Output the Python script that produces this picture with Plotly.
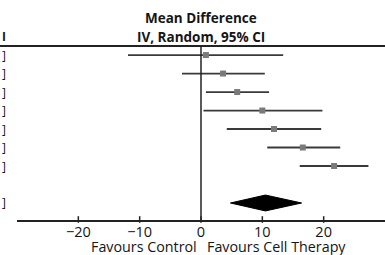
import plotly.graph_objects as go

# Study rows (mean difference, 95% CI)
means = [0.8, 3.6, 5.9, 10.0, 11.9, 16.6, 21.7]
lows = [-11.9, -3.1, 0.8, 0.4, 4.2, 10.8, 16.1]
highs = [13.4, 10.4, 11.1, 19.8, 19.6, 22.7, 27.3]

# Pooled estimate
pooled_mean = 10.5
pooled_low = 4.8
pooled_high = 16.4

tick_vals = [-20, -10, 0, 10, 20]
title_lines = ["Mean Difference", "IV, Random, 95% CI"]
label_left = "Favours Control"
label_right = "Favours Cell Therapy"

FONT = "Open Sans"
TXT = "#151515"
n = len(means)
rows = list(range(n))
pooled_row = n + 1
half_h = 0.43

fig = go.Figure()

# CI lines + squares
fig.add_trace(go.Scatter(
    x=means, y=rows, mode="markers",
    marker=dict(symbol="square", size=6, color="#7a7a7a", line=dict(width=0)),
    error_x=dict(type="data", symmetric=False,
                 array=[h - m for h, m in zip(highs, means)],
                 arrayminus=[m - l for m, l in zip(means, lows)],
                 thickness=1.8, width=0, color="#3a3a3a"),
    showlegend=False, hoverinfo="skip", cliponaxis=False,
))

# Pooled diamond
fig.add_trace(go.Scatter(
    x=[pooled_low, pooled_mean, pooled_high, pooled_mean, pooled_low],
    y=[pooled_row, pooled_row - half_h, pooled_row, pooled_row + half_h, pooled_row],
    mode="lines", fill="toself", fillcolor="black",
    line=dict(color="black", width=1),
    showlegend=False, hoverinfo="skip",
))

shapes = []
# top header line
shapes.append(dict(type="line", xref="paper", yref="paper", x0=-0.05, x1=1.0,
                   y0=1, y1=1, line=dict(color="#222", width=1.8)))
# vertical null line
shapes.append(dict(type="line", xref="x", yref="paper", x0=0, x1=0, y0=0, y1=1,
                   line=dict(color="#222", width=1.5)))
# tick marks crossing the axis
for t in tick_vals:
    shapes.append(dict(type="line", xref="x", yref="paper", x0=t, x1=t,
                       y0=-0.016, y1=0.022, line=dict(color="#222", width=1.5)))

annotations = []
annotations.append(dict(text="<b>%s</b>" % title_lines[0], x=0, xref="x", y=1.161, yref="paper",
                        xanchor="center", yanchor="middle", showarrow=False,
                        font=dict(family=FONT, size=13.5, color=TXT)))
annotations.append(dict(text="<b>%s</b>" % title_lines[1], x=0, xref="x", y=1.052, yref="paper",
                        xanchor="center", yanchor="middle", showarrow=False,
                        font=dict(family=FONT, size=13.5, color=TXT)))
annotations.append(dict(text=label_left, x=-0.4, xref="x", y=-0.155, yref="paper",
                        xanchor="right", yanchor="middle", showarrow=False,
                        font=dict(family=FONT, size=14.3, color=TXT)))
annotations.append(dict(text=label_right, x=0.6, xref="x", y=-0.155, yref="paper",
                        xanchor="left", yanchor="middle", showarrow=False,
                        font=dict(family=FONT, size=14.3, color=TXT)))
# cropped left column remnants
annotations.append(dict(text="<b>I</b>", x=-0.046, xref="paper", y=1.052, yref="paper",
                        xanchor="left", yanchor="middle", showarrow=False,
                        font=dict(family=FONT, size=12, color=TXT)))
for r in rows + [pooled_row]:
    annotations.append(dict(text="]", x=-0.046, xref="paper", y=r, yref="y",
                            xanchor="left", yanchor="middle", showarrow=False,
                            font=dict(family=FONT, size=12, color=TXT)))

fig.update_layout(
    width=385, height=255,
    margin=dict(l=17, r=0, t=46, b=35),
    paper_bgcolor="white", plot_bgcolor="white",
    shapes=shapes, annotations=annotations,
    xaxis=dict(range=[-30, 30], tickvals=tick_vals, ticks="", showgrid=False,
               zeroline=False, showline=True, linecolor="#222", linewidth=1.5,
               tickfont=dict(family=FONT, size=14.5, color=TXT), ticklabelstandoff=-2),
    yaxis=dict(range=[8.92, -0.49], visible=False, showgrid=False, zeroline=False),
)

fig.write_html("out.html", config={"displayModeBar": False},
               post_script="document.body.style.margin='0';document.body.style.overflow='hidden';")
